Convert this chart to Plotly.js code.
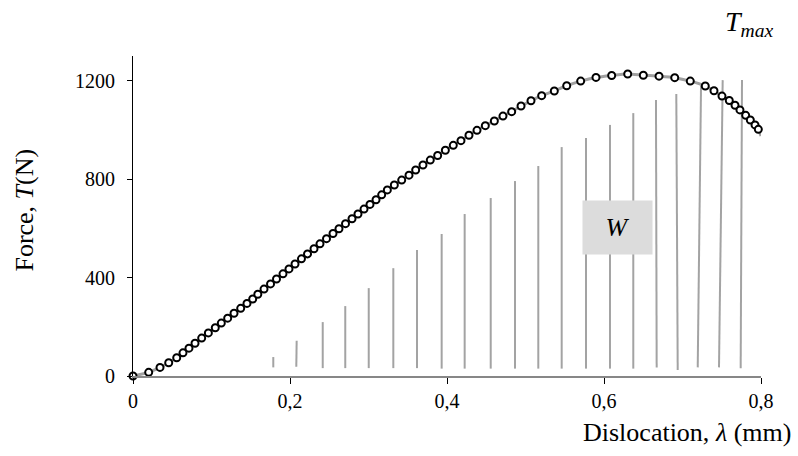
<!DOCTYPE html>
<html>
<head>
<meta charset="utf-8">
<script src="https://cdn.plot.ly/plotly-3.0.1.min.js"></script>
<style>html,body{margin:0;padding:0;background:#fff;}#chart{width:798px;height:456px;}</style>
</head>
<body>
<div id="chart"></div>
<script>
// Measured force-displacement points (markers)
const markerX = [0, 0.020, 0.0344, 0.0455, 0.0557, 0.0637, 0.0713, 0.079, 0.0875, 0.096, 0.1048, 0.1125, 0.1206, 0.1287, 0.1372, 0.1452, 0.1525, 0.159, 0.1669, 0.1752, 0.1828, 0.1911, 0.1987, 0.2064, 0.2146, 0.2223, 0.2306, 0.2382, 0.2465, 0.2548, 0.2624, 0.2707, 0.2790, 0.2866, 0.2943, 0.3019, 0.3096, 0.3168, 0.3240, 0.3329, 0.3423, 0.3516, 0.3601, 0.3694, 0.3787, 0.3881, 0.3979, 0.4080, 0.4178, 0.4280, 0.4382, 0.4488, 0.4603, 0.4713, 0.4824, 0.4943, 0.5070, 0.5206, 0.5367, 0.5525, 0.5703, 0.5898, 0.6098, 0.6302, 0.6501, 0.6701, 0.6901, 0.7099, 0.7290, 0.7401, 0.7503, 0.7596, 0.7669, 0.7732, 0.7805, 0.7864, 0.7924, 0.7966];
const markerY = [0, 15, 35, 54, 74, 94, 113, 133, 154, 175, 196, 215, 235, 255, 275, 295, 313, 332, 353, 374, 394, 415, 435, 455, 476, 496, 517, 537, 558, 579, 598, 619, 639, 658, 678, 697, 716, 736, 756, 776, 796, 816, 837, 857, 877, 896, 917, 937, 956, 978, 998, 1017, 1036, 1056, 1074, 1097, 1118, 1139, 1158, 1179, 1198, 1213, 1221, 1227, 1222, 1218, 1212, 1198, 1178, 1159, 1137, 1119, 1100, 1081, 1059, 1040, 1020, 1002];
// Continuation of the curve past the last marker
const curveEndX = [0.8];
const curveEndY = [975];

// Work-area hatch lines
const hatchBottomX = [0.1787, 0.2080, 0.2417, 0.2704, 0.3003, 0.3316, 0.3618, 0.3932, 0.4225, 0.4557, 0.4866, 0.5163, 0.5461, 0.5771, 0.6076, 0.6373, 0.6671, 0.6939, 0.7194, 0.7465, 0.7741];
const hatchTopX    = [0.1787, 0.2085, 0.2417, 0.2704, 0.3003, 0.3316, 0.3618, 0.3932, 0.4225, 0.4557, 0.4866, 0.5163, 0.5461, 0.5771, 0.6076, 0.6373, 0.6662, 0.6921, 0.7236, 0.7512, 0.7758];
const hatchBottomY = [35, 38, 32, 32, 32, 32, 32, 30, 30, 30, 30, 30, 30, 30, 30, 30, 35, 24, 35, 35, 31];
const hatchTopY    = [77, 143, 219, 284, 357, 438, 512, 577, 658, 723, 792, 853, 930, 967, 1020, 1068, 1121, 1146, 1178, 1202, 1202];

const xTickVals = [0, 0.2, 0.4, 0.6, 0.8];
const xTickText = ['0', '0,2', '0,4', '0,6', '0,8'];
const yTickVals = [0, 400, 800, 1200];
const yTickText = ['0', '400', '800', '1200'];

const xTitle = 'Dislocation, <i>λ</i> (mm)';
const yTitle = 'Force, <i>T</i>(N)';
const peakLabel = '<i>T</i><sub><i>max</i></sub>';
const areaLabel = '<i>W</i>';

const FONT = "'Liberation Serif', 'Times New Roman', Times, serif";

const hx = [], hy = [];
for (let i = 0; i < hatchBottomX.length; i++) {
  hx.push(hatchBottomX[i], hatchTopX[i], null);
  hy.push(hatchBottomY[i], hatchTopY[i], null);
}

const traces = [
  {x: hx, y: hy, type: 'scatter', mode: 'lines', line: {color: '#a3a3a3', width: 2}, hoverinfo: 'skip', showlegend: false},
  {x: markerX.concat(curveEndX), y: markerY.concat(curveEndY), type: 'scatter', mode: 'lines',
   line: {color: '#a0a0a0', width: 3, shape: 'spline', smoothing: 0.6}, showlegend: false},
  {x: markerX, y: markerY, type: 'scatter', mode: 'markers', cliponaxis: false,
   marker: {symbol: 'circle', size: 7, color: '#ffffff', line: {color: '#000000', width: 2}}, showlegend: false}
];

const layout = {
  width: 798, height: 456,
  margin: {l: 133, r: 37, t: 56, b: 80},
  paper_bgcolor: '#ffffff', plot_bgcolor: '#ffffff',
  font: {family: FONT, size: 20, color: '#000'},
  showlegend: false,
  xaxis: {
    range: [0, 0.8], tickvals: xTickVals, ticktext: xTickText,
    showgrid: false, zeroline: false, showline: true, linecolor: '#878787', linewidth: 2,
    ticks: 'outside', ticklen: 6, tickwidth: 1, tickcolor: '#000',
    tickfont: {family: FONT, size: 20, color: '#000'}
  },
  yaxis: {
    range: [0, 1300], tickvals: yTickVals, ticktext: yTickText,
    showgrid: false, zeroline: false, showline: true, linecolor: '#000', linewidth: 1,
    ticks: 'outside', ticklen: 5, tickwidth: 1, tickcolor: '#000', ticklabelstandoff: 8,
    tickfont: {family: FONT, size: 20, color: '#000'}
  },
  annotations: [
    {text: xTitle, xref: 'paper', yref: 'paper', x: 1.051, y: -0.175, xanchor: 'right', yanchor: 'middle',
     showarrow: false, font: {family: FONT, size: 26, color: '#000'}},
    {text: yTitle, xref: 'paper', yref: 'paper', x: -0.172, y: 0.52, xanchor: 'center', yanchor: 'middle',
     textangle: -90, showarrow: false, font: {family: FONT, size: 26, color: '#000'}},
    {text: peakLabel, xref: 'paper', yref: 'paper', x: 0.981, y: 1.1, xanchor: 'center', yanchor: 'middle',
     showarrow: false, font: {family: FONT, size: 28, color: '#000'}},
    {text: areaLabel, xref: 'x', yref: 'y', x: 0.6166, y: 603, xanchor: 'center', yanchor: 'middle',
     showarrow: false, bgcolor: '#dcdcdc', width: 67, height: 51, font: {family: FONT, size: 26, color: '#000'}}
  ]
};

Plotly.newPlot('chart', traces, layout, {displayModeBar: false, staticPlot: true});
</script>
</body>
</html>
